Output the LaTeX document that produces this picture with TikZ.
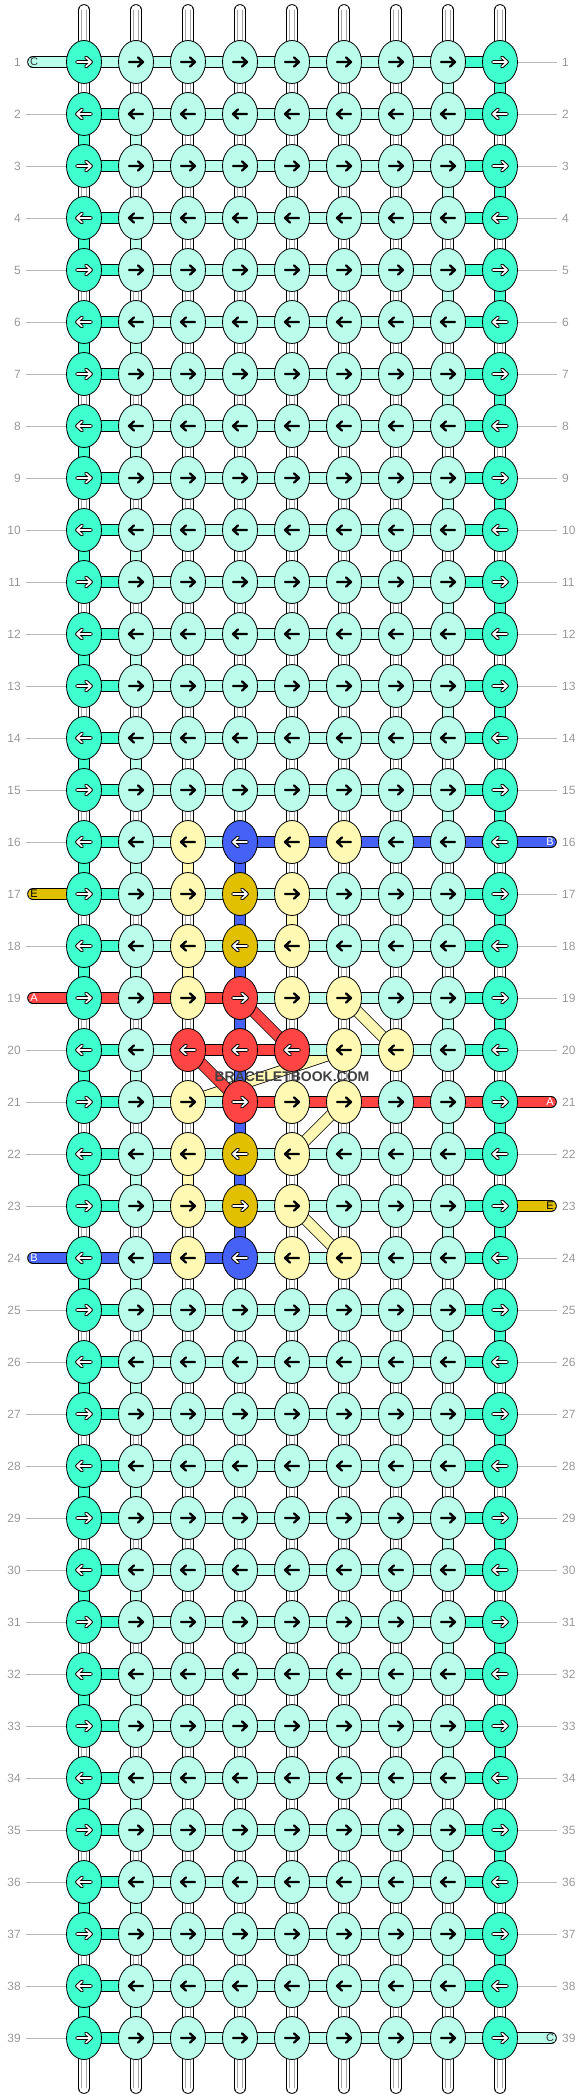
\documentclass[tikz,border=0pt]{standalone}
\usepackage{fontspec}
\setmainfont{Liberation Sans}
\usetikzlibrary{shapes.geometric}
\definecolor{dt}{HTML}{40FFCF}
\definecolor{lt}{HTML}{B9FDEA}
\definecolor{yel}{HTML}{FFF9B4}
\definecolor{mus}{HTML}{E0C000}
\definecolor{rd}{HTML}{FF4444}
\definecolor{blu}{HTML}{4661F5}
\pgfdeclarelayer{layA}\pgfdeclarelayer{layB}\pgfdeclarelayer{layC}
\pgfsetlayers{layA,layB,layC,main}
\newcommand\SetKC[3]{\expandafter\def\csname kc-#1-#2\endcsname{#3}}
\newcommand\SetHC[3]{\expandafter\def\csname hc-#1-#2\endcsname{#3}}
\newcommand\SetVC[3]{\expandafter\def\csname vc-#1-#2\endcsname{#3}}
\def\KltName{lt}\def\KyelName{yel}
% knot colours
\SetKC{16}{2}{yel}\SetKC{16}{3}{blu}\SetKC{16}{4}{yel}\SetKC{16}{5}{yel}
\SetKC{17}{2}{yel}\SetKC{17}{3}{mus}\SetKC{17}{4}{yel}
\SetKC{18}{2}{yel}\SetKC{18}{3}{mus}\SetKC{18}{4}{yel}
\SetKC{19}{2}{yel}\SetKC{19}{3}{rd}\SetKC{19}{4}{yel}\SetKC{19}{5}{yel}
\SetKC{20}{2}{rd}\SetKC{20}{3}{rd}\SetKC{20}{4}{rd}\SetKC{20}{5}{yel}\SetKC{20}{6}{yel}
\SetKC{21}{2}{yel}\SetKC{21}{3}{rd}\SetKC{21}{4}{yel}\SetKC{21}{5}{yel}
\SetKC{22}{2}{yel}\SetKC{22}{3}{mus}\SetKC{22}{4}{yel}
\SetKC{23}{2}{yel}\SetKC{23}{3}{mus}\SetKC{23}{4}{yel}
\SetKC{24}{2}{yel}\SetKC{24}{3}{blu}\SetKC{24}{4}{yel}\SetKC{24}{5}{yel}
% horizontal connector colours
\SetHC{1}{0}{lt}\SetHC{39}{7}{lt}
\SetHC{16}{3}{blu}\SetHC{16}{4}{blu}\SetHC{16}{5}{blu}\SetHC{16}{6}{blu}\SetHC{16}{7}{blu}
\SetHC{19}{0}{rd}\SetHC{19}{1}{rd}\SetHC{19}{2}{rd}
\SetHC{20}{2}{rd}\SetHC{20}{3}{rd}
\SetHC{21}{3}{rd}\SetHC{21}{4}{rd}\SetHC{21}{5}{rd}\SetHC{21}{6}{rd}\SetHC{21}{7}{rd}
\SetHC{24}{0}{blu}\SetHC{24}{1}{blu}\SetHC{24}{2}{blu}
% vertical connector colours
\SetVC{16}{3}{blu}\SetVC{17}{3}{blu}\SetVC{18}{3}{blu}\SetVC{19}{3}{blu}
\SetVC{20}{3}{blu}\SetVC{21}{3}{blu}\SetVC{22}{3}{blu}\SetVC{23}{3}{blu}
\SetVC{16}{2}{yel}\SetVC{18}{2}{yel}\SetVC{22}{2}{yel}\SetVC{17}{4}{yel}
\tikzset{
  knot/.style={ellipse, draw=black, line width=0.8pt, minimum width=35pt, minimum height=43pt, inner sep=0pt},
  band/.style={draw=black, line width=0.8pt, double=#1, double distance=10pt},
  tube/.style={band=#1, line cap=round},
  ginner/.style={draw=black!35, line width=0.6pt, line cap=round},
  gline/.style={draw=black!28, line width=0.9pt},
  num/.style={text=black!40, font=\fontsize{12}{12}\selectfont, inner sep=0pt},
  tlab/.style={font=\fontsize{11}{11}\selectfont, inner sep=0pt},
  barr/.style={draw=black, line width=2.3pt, line cap=round, line join=round},
  warr/.style={draw=black, line width=3.7pt, line cap=round, line join=round, postaction={draw=white, line width=1.7pt}},
  arrsel/.code={\ifnum#1=1\relax\tikzset{barr}\else\tikzset{warr}\fi},
  wmark/.style={font=\bfseries\fontsize{14}{14}\selectfont, text=black!75, inner sep=0pt}
}
\begin{document}
\begin{tikzpicture}[x=1pt,y=-1pt]
\useasboundingbox (0,0) rectangle (584,2100);
% knots with arrows
\foreach \rw in {1,...,39}{
  \foreach \cl in {0,...,8}{
    \ifcsname kc-\rw-\cl\endcsname
      \edef\kc{\csname kc-\rw-\cl\endcsname}%
    \else
      \ifnum\cl=0 \def\kc{dt}\else\ifnum\cl=8 \def\kc{dt}\else\def\kc{lt}\fi\fi
    \fi
    \ifx\kc\KltName \def\isb{1}\else\ifx\kc\KyelName \def\isb{1}\else\def\isb{0}\fi\fi
    \ifodd\rw\relax \def\dir{1}\else\def\dir{-1}\fi
    \node[knot, fill=\kc] (k-\rw-\cl) at ({84+52*\cl},{62+52*(\rw-1)}) {};
    \draw[arrsel=\isb] ([xshift={-7*(\dir)}]k-\rw-\cl.center) -- ++({14*(\dir)},0)
      ++({-5*(\dir)},-4.6) -- ++({5*(\dir)},4.6) -- ++({-5*(\dir)},4.6);
  }
}
% column end points
\foreach \cl in {0,...,8}{
  \coordinate (top-\cl) at ({84+52*\cl},10);
  \coordinate (bot-\cl) at ({84+52*\cl},2088);
}
% vertical white strings
\begin{pgfonlayer}{layA}
\foreach \cl in {0,...,8}{
  \draw[tube=white] (top-\cl) -- (bot-\cl);
  \draw[ginner] ([xshift=-2.3pt]top-\cl) -- ([xshift=-2.3pt]bot-\cl);
  \draw[ginner] ([xshift=2.3pt]top-\cl) -- ([xshift=2.3pt]bot-\cl);
}
\end{pgfonlayer}
% diagonals
\begin{pgfonlayer}{layB}
\draw[band=yel] (k-20-5.center) -- (k-21-2.center);
\draw[band=rd] (k-19-3.center) -- (k-20-4.center);
\draw[band=rd] (k-20-2.center) -- (k-21-3.center);
\draw[band=yel] (k-19-5.center) -- (k-20-6.center);
\draw[band=yel] (k-21-5.center) -- (k-22-4.center);
\draw[band=yel] (k-23-4.center) -- (k-24-5.center);
\end{pgfonlayer}
\begin{pgfonlayer}{layC}
% vertical coloured connectors
\foreach \rw in {1,...,38}{
  \pgfmathtruncatemacro\rn{\rw+1}
  \foreach \cl in {0,...,8}{
    \def\vcc{}%
    \ifcsname vc-\rw-\cl\endcsname
      \edef\vcc{\csname vc-\rw-\cl\endcsname}%
    \else
      \ifodd\rw\relax
        \ifnum\cl=7 \def\vcc{lt}\fi
        \ifnum\cl=8 \def\vcc{dt}\fi
      \else
        \ifnum\cl=0 \def\vcc{dt}\fi
        \ifnum\cl=1 \def\vcc{lt}\fi
      \fi
    \fi
    \ifx\vcc\empty\else
      \draw[band=\vcc] (k-\rw-\cl.center) -- (k-\rn-\cl.center);
    \fi
  }
}
% horizontal connectors
\foreach \rw in {1,...,39}{
  \foreach \s in {0,...,7}{
    \pgfmathtruncatemacro\sn{\s+1}
    \ifcsname hc-\rw-\s\endcsname
      \edef\hc{\csname hc-\rw-\s\endcsname}%
    \else
      \ifnum\s=0 \def\hc{dt}\else\ifnum\s=7 \def\hc{dt}\else\def\hc{lt}\fi\fi
    \fi
    \draw[band=\hc] (k-\rw-\s.center) -- (k-\rw-\sn.center);
  }
}
% row numbers and guide lines
\foreach \rw in {1,...,39}{
  \pgfmathtruncatemacro\yy{62+52*(\rw-1)}
  \node[num, anchor=east] (nl-\rw) at (21,\yy) {\rw};
  \node[num, anchor=west] (nr-\rw) at (562,\yy) {\rw};
  \coordinate (gl-\rw) at (26,\yy);
  \coordinate (gr-\rw) at (557,\yy);
  \def\hasl{1}\def\hasr{1}
  \ifnum\rw=1 \def\hasl{0}\fi
  \ifnum\rw=17 \def\hasl{0}\fi
  \ifnum\rw=19 \def\hasl{0}\fi
  \ifnum\rw=24 \def\hasl{0}\fi
  \ifnum\rw=16 \def\hasr{0}\fi
  \ifnum\rw=21 \def\hasr{0}\fi
  \ifnum\rw=23 \def\hasr{0}\fi
  \ifnum\rw=39 \def\hasr{0}\fi
  \ifnum\hasl=1 \draw[gline] (gl-\rw) -- (k-\rw-0.center);\fi
  \ifnum\hasr=1 \draw[gline] (k-\rw-8.center) -- (gr-\rw);\fi
}
% thread ends
\coordinate (tl-1) at (33,62);
\coordinate (tl-17) at (33,894);
\coordinate (tl-19) at (33,998);
\coordinate (tl-24) at (33,1258);
\coordinate (tr-16) at (551,842);
\coordinate (tr-21) at (551,1102);
\coordinate (tr-23) at (551,1206);
\coordinate (tr-39) at (551,2038);
\draw[tube=lt] (tl-1) -- (k-1-0.center);
\draw[tube=mus] (tl-17) -- (k-17-0.center);
\draw[tube=rd] (tl-19) -- (k-19-0.center);
\draw[tube=blu] (tl-24) -- (k-24-0.center);
\draw[tube=blu] (k-16-8.center) -- (tr-16);
\draw[tube=rd] (k-21-8.center) -- (tr-21);
\draw[tube=mus] (k-23-8.center) -- (tr-23);
\draw[tube=lt] (k-39-8.center) -- (tr-39);
\node[tlab, text=black!80] (lab-C1) at (34,62) {C};
\node[tlab, text=black] (lab-E1) at (34,894) {E};
\node[tlab, text=white] (lab-A1) at (34,998) {A};
\node[tlab, text=white] (lab-B1) at (34,1258) {B};
\node[tlab, text=white] (lab-B2) at (550,842) {B};
\node[tlab, text=white] (lab-A2) at (550,1102) {A};
\node[tlab, text=black] (lab-E2) at (550,1206) {E};
\node[tlab, text=black!80] (lab-C2) at (550,2038) {C};
\end{pgfonlayer}
% watermark
\node[wmark, anchor=base] (wm) at (292,1081) {BRACELETBOOK.COM};
\end{tikzpicture}
\end{document}
